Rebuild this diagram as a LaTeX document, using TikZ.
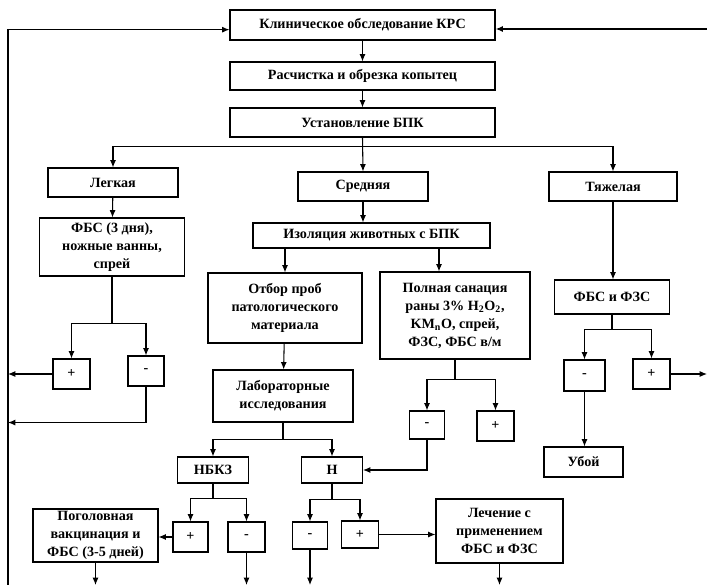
\documentclass[tikz,border=0pt]{standalone}
\usepackage{fontspec}
\setmainfont{Liberation Serif}
\usepackage{tikz}
\usetikzlibrary{arrows.meta,calc,positioning}

\begin{document}
\begin{tikzpicture}[x=0.75pt,y=-0.75pt,line width=0.8pt,
  box/.style={draw,align=center,inner sep=1pt,font=\bfseries\fontsize{10.6}{13.5}\selectfont},
  sz/.style 2 args={minimum width=0.75*#1,minimum height=0.75*#2},
  arr/.style={-{Latex[length=5.5pt,width=4.5pt]}}]
\useasboundingbox (0,0) rectangle (707,585);
\coordinate (lbot) at (8,585);
\coordinate (rtop) at (707,29);
\coordinate (rmid) at (707,375);
\coordinate (bot) at (0,585);

\node[box,sz={265}{30}] (klin) at (362.5,25) {Клиническое обследование КРС};
\node[box,sz={265}{28}] (rasch) at (362.5,76) {Расчистка и обрезка копытец};
\node[box,sz={265}{29}] (ustan) at (362.5,122.5) {Установление БПК};
\node[box,sz={130}{29}] (legk) at (113,182.5) {Легкая};
\node[box,sz={130}{29}] (sred) at (363,186.5) {Средняя};
\node[box,sz={128}{29}] (tyazh) at (613,186.5) {Тяжелая};
\node[box,sz={145}{58}] (fbs3) at (112,247) {ФБС (3 дня),\\ножные ванны,\\спрей};
\node[box,sz={237}{25}] (izol) at (371.5,235.5) {Изоляция животных с БПК};
\node[box,sz={154}{70}] (otbor) at (285,308) {Отбор проб\\патологического\\материала};
\node[box,sz={150}{87}] (poln) at (455,315.5)
  {Полная санация\\раны 3\% H\textsubscript{2}O\textsubscript{2},\\KM\textsubscript{n}O, спрей,\\ФЗС, ФБС в/м};
\node[box,sz={115}{34}] (fbsfzs) at (612,297) {ФБС и ФЗС};
\node[box,sz={37}{30}] (lplus) at (71.5,374) {+};
\node[box,sz={36}{30}] (lminus) at (146,371) {-};
\node[box,sz={140}{52}] (lab) at (283,396) {Лабораторные\\исследования};
\node[box,sz={35}{28}] (pminus) at (427,425) {-};
\node[box,sz={37}{30}] (pplus) at (495.5,426) {+};
\node[box,sz={41}{31}] (tminus) at (584.5,375.5) {-};
\node[box,sz={37}{30}] (tplus) at (651.5,374) {+};
\node[box,sz={79}{30}] (uboy) at (583.5,462) {Убой};
\node[box,sz={71}{26}] (nbkz) at (213,470) {НБКЗ};
\node[box,sz={61}{26}] (n) at (332,470) {Н};
\node[box,sz={125}{53}] (pogol) at (95.5,535.5) {Поголовная\\вакцинация и\\ФБС (3-5 дней)};
\node[box,sz={35}{30}] (nplus) at (190.5,537) {+};
\node[box,sz={37}{30}] (nminus) at (246.5,537) {-};
\node[box,sz={35}{27}] (hminus) at (310,535.5) {-};
\node[box,sz={37}{27}] (hplus) at (360,534.5) {+};
\node[box,sz={127}{64}] (lech) at (499.5,531) {Лечение с\\применением\\ФБС и ФЗС};

\draw[arr] (lbot) |- ([yshift=-3.5pt]klin.west);
\draw[arr,line width=1.5pt] (rtop) -- (rtop -| klin.east);
\draw[arr] (klin) -- (rasch);
\draw[arr] (rasch) -- (ustan);
\draw (ustan.south) -- ++(0,8.5) coordinate (c1);
\draw[arr] (c1) -| (legk.north);
\draw[arr] (c1) -| (tyazh.north);
\draw[arr] (ustan.south) -- (sred.north);
\draw[arr] (legk) -- (fbs3);
\draw[arr] (sred.south) -- (sred.south |- izol.north);
\draw[arr] (otbor.north |- izol.south) -- (otbor.north);
\draw[arr] ([xshift=-12pt]poln.north |- izol.south) -- ([xshift=-12pt]poln.north);
\draw[arr] (tyazh.south) -- (tyazh.south |- fbsfzs.north);

\draw (fbs3.south) -- ++(0,47) coordinate (c2);
\draw[arr] (c2) -| (lplus.north);
\draw[arr] (c2) -| (lminus.north);
\draw[arr] (lplus.west) -- (lplus.west -| lbot);
\draw[arr] (lminus.south) -- ++(0,36) coordinate (c3) -- (c3 -| lbot);

\draw[arr] (otbor) -- (lab);
\draw (lab.south) -- ++(0,17) coordinate (c4);
\draw[arr] (c4) -| (nbkz.north);
\draw[arr] (c4) -| (n.north);

\draw (poln.south) -- ++(0,20) coordinate (c5);
\draw[arr] (c5) -| (pminus.north);
\draw[arr] (c5) -| (pplus.north);
\draw[arr] (pminus.south) |- (n.east);

\draw (fbsfzs.south) -- ++(0,15) coordinate (c6);
\draw[arr] (c6) -| (tminus.north);
\draw[arr] (c6) -| (tplus.north);
\draw[arr] (tplus.east) -- (tplus.east -| rmid);
\draw[arr] (tminus.south) -- (tminus.south |- uboy.north);

\draw (nbkz.south) -- ++(0,15) coordinate (c7);
\draw[arr] (c7) -| (nplus.north);
\draw[arr] (c7) -| (nminus.north);
\draw[arr] (nplus.west) -- (nplus.west -| pogol.east);
\draw (n.south) -- ++(0,16) coordinate (c8);
\draw[arr] (c8) -| (hminus.north);
\draw[arr] (c8) -| (hplus.north);
\draw[arr] (hplus.east) -- (hplus.east -| lech.west);

\draw[arr] (pogol.south) -- (pogol.south |- bot);
\draw[arr] (nminus.south) -- (nminus.south |- bot);
\draw[arr] (hminus.south) -- (hminus.south |- bot);
\draw[arr] (lech.south) -- (lech.south |- bot);
\end{tikzpicture}
\end{document}
